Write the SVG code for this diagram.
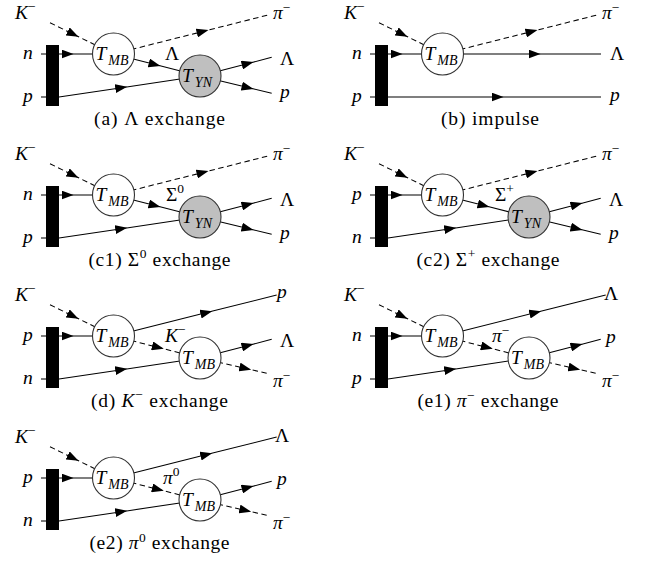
<svg xmlns="http://www.w3.org/2000/svg" width="647" height="568" viewBox="0 0 647 568">
<defs>
<marker id="ah" viewBox="0 0 12 9" refX="11.5" refY="4.5" markerWidth="12" markerHeight="9" markerUnits="userSpaceOnUse" orient="auto"><path d="M0,0 L12,4.5 L0,9 z" fill="#000"/></marker>
</defs>
<style>
.ln{fill:none;stroke:#000;stroke-width:1.05}
.ds{stroke-dasharray:5.5 3.5}
.ar{marker-mid:url(#ah)}
.node{stroke:#333;stroke-width:1.1}
.mb{fill:#fff}
.yn{fill:#bfbfbf}
.bar{fill:#000}
text{fill:#000}
.m{font-size:19.5px;font-style:italic}
.r{font-size:19.5px;font-style:normal}
.sub{font-size:14px}
.sup{font-size:13.5px;font-style:normal}
.cap{font-size:19.5px}
</style>
<rect width="647" height="568" fill="#fff"/>
<g font-family="Liberation Serif, DejaVu Serif, serif">

<!-- (a) Lambda exchange -->
<g id="panel-a">
  <g id="a-connectors">
    <path class="ln ds ar" d="M50,22.7 L78,36.5 L113.5,54"/>
    <path class="ln ds ar" d="M113.5,54 L208,30.2 L268,15"/>
    <path class="ln ar" d="M41,54 L73,54 L113.5,54"/>
    <path class="ln" d="M41,97 L59,97"/>
    <path class="ln ar" d="M59,97 L126.7,86.9 L200,76"/>
    <path class="ln ar" d="M113.5,54 L160,65.8 L200,76"/>
    <path class="ln ar" d="M200,76 L253,62.2 L271.7,57.3"/>
    <path class="ln ar" d="M200,76 L253,88.8 L271.7,93.3"/>
  </g>
  <g id="a-bar"><rect class="bar" x="46" y="45" width="13" height="61"/></g>
  <g id="a-tmb"><circle class="node mb" cx="113.5" cy="54" r="21"/><text class="m" x="95.5" y="60">T<tspan class="sub" dx="2" dy="4.5">MB</tspan></text></g>
  <g id="a-tyn"><circle class="node yn" cx="200" cy="76" r="21"/><text class="m" x="182" y="82">T<tspan class="sub" dx="2" dy="4.5">YN</tspan></text></g>
  <g id="a-labels">
    <text class="m" x="15" y="19">K<tspan class="sup" dy="-8">−</tspan></text>
    <text class="m" x="23" y="59">n</text>
    <text class="m" x="23" y="101.5">p</text>
    <text class="m" x="273" y="18.5">π<tspan class="sup" dy="-6.5">−</tspan></text>
    <text class="r" x="165" y="60">Λ</text>
    <text class="r" x="280" y="65">Λ</text>
    <text class="m" x="280" y="97.5">p</text>
  </g>
  <text class="cap" x="94" y="125" textLength="131" lengthAdjust="spacing">(a) Λ exchange</text>
</g>

<!-- (b) impulse -->
<g id="panel-b" transform="translate(329,0)">
  <g id="b-connectors">
    <path class="ln ds ar" d="M50,22.7 L78,36.5 L113.5,54"/>
    <path class="ln ds ar" d="M113.5,54 L208,30.2 L268,15"/>
    <path class="ln ar" d="M41,54 L73,54 L211,54 L272,54"/>
    <path class="ln ar" d="M41,97 L174,97 L272,97"/>
  </g>
  <g id="b-bar"><rect class="bar" x="46" y="45" width="13" height="61"/></g>
  <g id="b-tmb"><circle class="node mb" cx="113.5" cy="54" r="21"/><text class="m" x="95.5" y="60">T<tspan class="sub" dx="2" dy="4.5">MB</tspan></text></g>
  <g id="b-labels">
    <text class="m" x="15" y="19">K<tspan class="sup" dy="-8">−</tspan></text>
    <text class="m" x="23" y="59">n</text>
    <text class="m" x="23" y="101.5">p</text>
    <text class="m" x="273" y="18.5">π<tspan class="sup" dy="-6.5">−</tspan></text>
    <text class="r" x="281" y="60">Λ</text>
    <text class="m" x="281" y="100.5">p</text>
  </g>
  <text class="cap" x="112" y="125" textLength="98" lengthAdjust="spacing">(b) impulse</text>
</g>

<!-- (c1) Sigma0 exchange -->
<g id="panel-c1" transform="translate(0,141)">
  <g id="c1-connectors">
    <path class="ln ds ar" d="M50,22.7 L78,36.5 L113.5,54"/>
    <path class="ln ds ar" d="M113.5,54 L208,30.2 L268,15"/>
    <path class="ln ar" d="M41,54 L73,54 L113.5,54"/>
    <path class="ln" d="M41,97 L59,97"/>
    <path class="ln ar" d="M59,97 L126.7,86.9 L200,76"/>
    <path class="ln ar" d="M113.5,54 L160,65.8 L200,76"/>
    <path class="ln ar" d="M200,76 L253,62.2 L271.7,57.3"/>
    <path class="ln ar" d="M200,76 L253,88.8 L271.7,93.3"/>
  </g>
  <g id="c1-bar"><rect class="bar" x="46" y="45" width="13" height="61"/></g>
  <g id="c1-tmb"><circle class="node mb" cx="113.5" cy="54" r="21"/><text class="m" x="95.5" y="60">T<tspan class="sub" dx="2" dy="4.5">MB</tspan></text></g>
  <g id="c1-tyn"><circle class="node yn" cx="200" cy="76" r="21"/><text class="m" x="182" y="82">T<tspan class="sub" dx="2" dy="4.5">YN</tspan></text></g>
  <g id="c1-labels">
    <text class="m" x="15" y="19">K<tspan class="sup" dy="-8">−</tspan></text>
    <text class="m" x="23" y="59">n</text>
    <text class="m" x="23" y="101.5">p</text>
    <text class="m" x="273" y="18.5">π<tspan class="sup" dy="-6.5">−</tspan></text>
    <text class="r" x="166" y="60">Σ<tspan class="sup" dy="-8.5">0</tspan></text>
    <text class="r" x="280" y="65">Λ</text>
    <text class="m" x="280" y="97.5">p</text>
  </g>
  <text class="cap" x="88.5" y="125" textLength="142" lengthAdjust="spacing">(c1) Σ<tspan class="sup" dy="-8">0</tspan><tspan dy="8"> exchange</tspan></text>
</g>

<!-- (c2) Sigma+ exchange -->
<g id="panel-c2" transform="translate(329,141)">
  <g id="c2-connectors">
    <path class="ln ds ar" d="M50,22.7 L78,36.5 L113.5,54"/>
    <path class="ln ds ar" d="M113.5,54 L208,30.2 L268,15"/>
    <path class="ln ar" d="M41,54 L73,54 L113.5,54"/>
    <path class="ln" d="M41,97 L59,97"/>
    <path class="ln ar" d="M59,97 L126.7,86.9 L200,76"/>
    <path class="ln ar" d="M113.5,54 L160,65.8 L200,76"/>
    <path class="ln ar" d="M200,76 L253,62.2 L271.7,57.3"/>
    <path class="ln ar" d="M200,76 L253,88.8 L271.7,93.3"/>
  </g>
  <g id="c2-bar"><rect class="bar" x="46" y="45" width="13" height="61"/></g>
  <g id="c2-tmb"><circle class="node mb" cx="113.5" cy="54" r="21"/><text class="m" x="95.5" y="60">T<tspan class="sub" dx="2" dy="4.5">MB</tspan></text></g>
  <g id="c2-tyn"><circle class="node yn" cx="200" cy="76" r="21"/><text class="m" x="182" y="82">T<tspan class="sub" dx="2" dy="4.5">YN</tspan></text></g>
  <g id="c2-labels">
    <text class="m" x="15" y="19">K<tspan class="sup" dy="-8">−</tspan></text>
    <text class="m" x="23" y="59">p</text>
    <text class="m" x="23" y="101.5">n</text>
    <text class="m" x="273" y="18.5">π<tspan class="sup" dy="-6.5">−</tspan></text>
    <text class="r" x="166" y="60">Σ<tspan class="sup" dy="-8.5">+</tspan></text>
    <text class="r" x="280" y="65">Λ</text>
    <text class="m" x="280" y="97.5">p</text>
  </g>
  <text class="cap" x="87.5" y="125" textLength="143" lengthAdjust="spacing">(c2) Σ<tspan class="sup" dy="-8">+</tspan><tspan dy="8"> exchange</tspan></text>
</g>

<!-- (d) K- exchange -->
<g id="panel-d" transform="translate(0,282)">
  <g id="d-connectors">
    <path class="ln ds ar" d="M50,22.7 L78,36.5 L113.5,54"/>
    <path class="ln ar" d="M113.5,54 L211.7,29.3 L276.7,13"/>
    <path class="ln ar" d="M41,54 L73,54 L113.5,54"/>
    <path class="ln" d="M41,97 L59,97"/>
    <path class="ln ar" d="M59,97 L126.7,86.9 L200,76"/>
    <path class="ln ds ar" d="M113.5,54 L163.3,66.7 L200,76"/>
    <path class="ln ar" d="M200,76 L253,62.2 L271.7,57.3"/>
    <path class="ln ds ar" d="M200,76 L250.7,87.6 L266.7,91.3"/>
  </g>
  <g id="d-bar"><rect class="bar" x="46" y="45" width="13" height="61"/></g>
  <g id="d-tmb1"><circle class="node mb" cx="113.5" cy="54" r="21"/><text class="m" x="95.5" y="60">T<tspan class="sub" dx="2" dy="4.5">MB</tspan></text></g>
  <g id="d-tmb2"><circle class="node mb" cx="200" cy="76" r="21"/><text class="m" x="182" y="82">T<tspan class="sub" dx="2" dy="4.5">MB</tspan></text></g>
  <g id="d-labels">
    <text class="m" x="15" y="19">K<tspan class="sup" dy="-8">−</tspan></text>
    <text class="m" x="23" y="59">p</text>
    <text class="m" x="23" y="101.5">n</text>
    <text class="m" x="277" y="15.5">p</text>
    <text class="m" x="165" y="60">K<tspan class="sup" dy="-8.5">−</tspan></text>
    <text class="r" x="280" y="65">Λ</text>
    <text class="m" x="273" y="104.5">π<tspan class="sup" dy="-6.5">−</tspan></text>
  </g>
  <text class="cap" x="91" y="125" textLength="137" lengthAdjust="spacing">(d) <tspan font-style="italic">K</tspan><tspan class="sup" dy="-8">−</tspan><tspan dy="8"> exchange</tspan></text>
</g>

<!-- (e1) pi- exchange -->
<g id="panel-e1" transform="translate(329,282)">
  <g id="e1-connectors">
    <path class="ln ds ar" d="M50,22.7 L78,36.5 L113.5,54"/>
    <path class="ln ar" d="M113.5,54 L211.7,29.3 L276.7,13"/>
    <path class="ln ar" d="M41,54 L73,54 L113.5,54"/>
    <path class="ln" d="M41,97 L59,97"/>
    <path class="ln ar" d="M59,97 L126.7,86.9 L200,76"/>
    <path class="ln ds ar" d="M113.5,54 L163.3,66.7 L200,76"/>
    <path class="ln ar" d="M200,76 L253,62.2 L271.7,57.3"/>
    <path class="ln ds ar" d="M200,76 L250.7,87.6 L266.7,91.3"/>
  </g>
  <g id="e1-bar"><rect class="bar" x="46" y="45" width="13" height="61"/></g>
  <g id="e1-tmb1"><circle class="node mb" cx="113.5" cy="54" r="21"/><text class="m" x="95.5" y="60">T<tspan class="sub" dx="2" dy="4.5">MB</tspan></text></g>
  <g id="e1-tmb2"><circle class="node mb" cx="200" cy="76" r="21"/><text class="m" x="182" y="82">T<tspan class="sub" dx="2" dy="4.5">MB</tspan></text></g>
  <g id="e1-labels">
    <text class="m" x="15" y="19">K<tspan class="sup" dy="-8">−</tspan></text>
    <text class="m" x="23" y="59">n</text>
    <text class="m" x="23" y="101.5">p</text>
    <text class="r" x="275" y="18">Λ</text>
    <text class="m" x="163" y="59.5">π<tspan class="sup" dy="-6.5">−</tspan></text>
    <text class="m" x="277" y="61">p</text>
    <text class="m" x="273" y="104.5">π<tspan class="sup" dy="-6.5">−</tspan></text>
  </g>
  <text class="cap" x="88.5" y="125" textLength="141" lengthAdjust="spacing">(e1) <tspan font-style="italic">π</tspan><tspan class="sup" dy="-7">−</tspan><tspan dy="7"> exchange</tspan></text>
</g>

<!-- (e2) pi0 exchange -->
<g id="panel-e2" transform="translate(0,424)">
  <g id="e2-connectors">
    <path class="ln ds ar" d="M50,22.7 L78,36.5 L113.5,54"/>
    <path class="ln ar" d="M113.5,54 L211.7,29.3 L276.7,13"/>
    <path class="ln ar" d="M41,54 L73,54 L113.5,54"/>
    <path class="ln" d="M41,97 L59,97"/>
    <path class="ln ar" d="M59,97 L126.7,86.9 L200,76"/>
    <path class="ln ds ar" d="M113.5,54 L163.3,66.7 L200,76"/>
    <path class="ln ar" d="M200,76 L253,62.2 L271.7,57.3"/>
    <path class="ln ds ar" d="M200,76 L250.7,87.6 L266.7,91.3"/>
  </g>
  <g id="e2-bar"><rect class="bar" x="46" y="45" width="13" height="61"/></g>
  <g id="e2-tmb1"><circle class="node mb" cx="113.5" cy="54" r="21"/><text class="m" x="95.5" y="60">T<tspan class="sub" dx="2" dy="4.5">MB</tspan></text></g>
  <g id="e2-tmb2"><circle class="node mb" cx="200" cy="76" r="21"/><text class="m" x="182" y="82">T<tspan class="sub" dx="2" dy="4.5">MB</tspan></text></g>
  <g id="e2-labels">
    <text class="m" x="15" y="19">K<tspan class="sup" dy="-8">−</tspan></text>
    <text class="m" x="23" y="59">p</text>
    <text class="m" x="23" y="101.5">n</text>
    <text class="r" x="275" y="18">Λ</text>
    <text class="m" x="163" y="59.5">π<tspan class="sup" dy="-7.5">0</tspan></text>
    <text class="m" x="277" y="61">p</text>
    <text class="m" x="273" y="104.5">π<tspan class="sup" dy="-6.5">−</tspan></text>
  </g>
  <text class="cap" x="89.5" y="125" textLength="140" lengthAdjust="spacing">(e2) <tspan font-style="italic">π</tspan><tspan class="sup" dy="-7.5">0</tspan><tspan dy="7.5"> exchange</tspan></text>
</g>
</g>
</svg>
